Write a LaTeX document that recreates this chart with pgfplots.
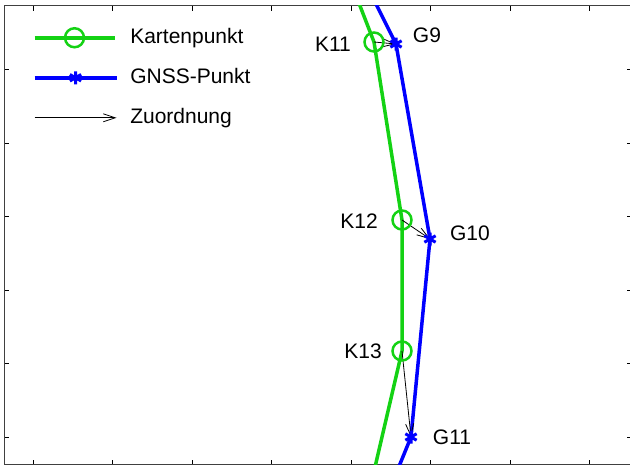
\documentclass[border=0pt]{standalone}
\usepackage{pgfplots}
\pgfplotsset{compat=1.18}
\usepackage{fontspec}
\setmainfont{Liberation Sans}
\usetikzlibrary{arrows.meta}
\definecolor{kgreen}{RGB}{20,210,20}
\definecolor{gblue}{RGB}{0,0,255}
\pgfplotsset{
  green legend/.style={legend image code/.code={
    \draw[kgreen, line width=3.5pt] (0pt,0pt) -- (80pt,0pt);
    \draw[kgreen, line width=2.5pt] plot[mark=o, mark size=9.5pt] coordinates {(40pt,0pt)};}},
  blue legend/.style={legend image code/.code={
    \draw[gblue, line width=3.5pt] (0pt,0pt) -- (82pt,0pt);
    \draw[gblue, line width=3pt] plot[mark=asterisk, mark size=6.5pt] coordinates {(41pt,0pt)};}},
  arrow legend/.style={legend image code/.code={\draw[black, line width=0.8pt, -{Straight Barb[length=12pt,width=8pt]}] (0pt,0pt) -- (82pt,0pt);}},
}
\begin{document}
\begin{tikzpicture}[font=\fontsize{21pt}{25pt}\selectfont]
\clip (0,0) rectangle (630pt,466pt);
\begin{axis}[
  at={(4.5pt,1.3pt)}, anchor=south west,
  scale only axis, width=627pt, height=459pt,
  xmin=4.5, xmax=631.5, ymin=5.7, ymax=464.7, y dir=reverse,
  xtick={33,112.5,192,271.5,351,430.5,510,589.5},
  ytick={69.5,143,216.5,290,363.5,437},
  xticklabels={}, yticklabels={},
  major tick length=5pt,
  axis line style={black!75, line width=1.2pt},
  every tick/.style={black, line width=0.8pt},
  legend style={at={(axis description cs:0.040,0.96)}, anchor=north west,
    draw=none, fill=none, font=\fontsize{21pt}{25pt}\selectfont,
    row sep=17pt,
    /tikz/every odd column/.append style={column sep=10pt},
    nodes={inner sep=2pt, text height=15pt, text depth=4pt}},
  legend cell align=left,
]
\addplot[kgreen, line width=3.5pt, no marks, green legend]
  table {
x y
350 -20
374 42
402 220
402 351
372 480
};
\addlegendentry{Kartenpunkt}
\addplot[kgreen, only marks, mark=o, mark size=9.5pt, line width=2.5pt, forget plot]
  table {
x y
374 42
402 220
402 351
};
\addplot[gblue, line width=3.5pt, no marks, blue legend]
  table {
x y
364 -20
396 44
430 239
411 437
393.5 480
};
\addlegendentry{GNSS-Punkt}
\addplot[gblue, only marks, mark=asterisk, mark size=6.5pt, line width=3pt, forget plot]
  table {
x y
396 44
430 239
411 437
};
\addplot[black, line width=0.8pt, -{Straight Barb[length=12pt,width=8pt]},
  quiver={u=\thisrow{u}, v=\thisrow{v}}, arrow legend]
  table {
x y u v
374 42 22 2
402 220 28 19
402 351 9 86
};
\addlegendentry{Zuordnung}
\node at (axis cs:333,44) {K11};
\node at (axis cs:427,35) {G9};
\node at (axis cs:359,221) {K12};
\node at (axis cs:470,233) {G10};
\node at (axis cs:363,351) {K13};
\node at (axis cs:452,437) {G11};
\end{axis}
\end{tikzpicture}
\end{document}
